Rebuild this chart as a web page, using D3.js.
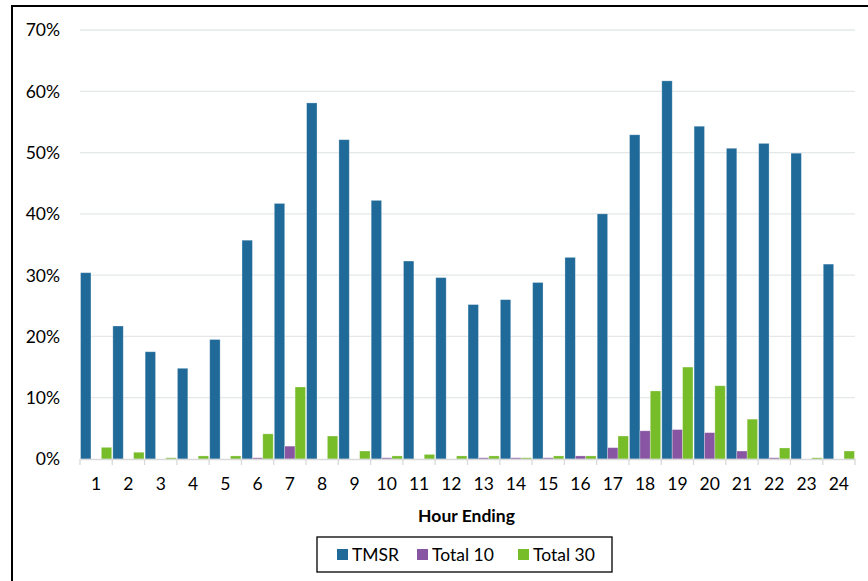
<!DOCTYPE html>
<html>
<head>
<meta charset="utf-8">
<script src="https://cdn.jsdelivr.net/npm/d3@7"></script>
<style>
  html, body { margin: 0; padding: 0; background: #fff; }
  svg { display: block; }
  text { font-family: Lato, "Open Sans", "Liberation Sans", sans-serif; fill: #000; }
</style>
</head>
<body>
<svg id="chart" width="868" height="581"></svg>
<script>
const hours = ["1","2","3","4","5","6","7","8","9","10","11","12","13","14","15","16","17","18","19","20","21","22","23","24"];
const seriesNames = ["TMSR", "Total 10", "Total 30"];
const seriesColors = ["#1f6a99", "#8755a1", "#77bc29"];
const tmsr    = [30.4, 21.7, 17.5, 14.8, 19.5, 35.7, 41.7, 58.1, 52.1, 42.2, 32.3, 29.6, 25.2, 26.0, 28.8, 32.9, 40.0, 52.9, 61.7, 54.3, 50.7, 51.5, 49.9, 31.8];
const total10 = [0, 0, 0, 0, 0, 0.2, 2.1, 0, 0, 0.2, 0, 0, 0.2, 0.2, 0.2, 0.5, 1.85, 4.6, 4.8, 4.3, 1.3, 0.2, 0, 0];
const total30 = [1.9, 1.1, 0.2, 0.5, 0.5, 4.1, 11.75, 3.75, 1.3, 0.5, 0.75, 0.5, 0.5, 0.2, 0.5, 0.5, 3.75, 11.1, 15.0, 11.95, 6.5, 1.8, 0.2, 1.3];
const yTicks = [0, 10, 20, 30, 40, 50, 60, 70];
const xTitle = "Hour Ending";

const seriesValues = [tmsr, total10, total30];
const rows = hours.map((h, i) => ({ hour: h, vals: seriesValues.map(s => s[i]) }));

const svg = d3.select("#chart");
const pLeft = 80, pRight = 855, pTop = 30, pBottom = 459;
const fs = "17.5px";

// outer frame
svg.append("rect").attr("x", 12).attr("y", 6).attr("width", 868).attr("height", 600)
  .attr("fill", "none").attr("stroke", "#000").attr("stroke-width", 2);

const x0 = d3.scaleBand().domain(hours).range([pLeft, pRight]).paddingInner(0.035).paddingOuter(0.0175);
const x1 = d3.scaleBand().domain(seriesNames).range([0, x0.bandwidth()]).padding(0);
const y = d3.scaleLinear().domain([0, 70]).range([pBottom, pTop]);

// gridlines
svg.append("g").selectAll("line").data(yTicks.filter(d => d > 0)).join("line")
  .attr("x1", pLeft).attr("x2", pRight)
  .attr("y1", d => y(d)).attr("y2", d => y(d))
  .attr("stroke", "#e4e8e8").attr("stroke-width", 1.3);

// y axis labels
const yAxis = d3.axisLeft(y).tickValues(yTicks).tickFormat(d => d + "%").tickSize(0).tickPadding(0);
const yg = svg.append("g").attr("transform", `translate(60,0)`).call(yAxis);
yg.select(".domain").remove();
yg.selectAll("text").style("font-size", fs).attr("fill", "#000").attr("dy", "0.34em");

// bars
const groups = svg.append("g").selectAll("g").data(rows).join("g")
  .attr("transform", d => `translate(${x0(d.hour)},0)`);
groups.selectAll("rect").data(d => d.vals.map((v, k) => ({ name: seriesNames[k], v, k }))).join("rect")
  .attr("x", d => x1(d.name))
  .attr("width", x1.bandwidth())
  .attr("y", d => y(d.v))
  .attr("height", d => pBottom - y(d.v))
  .attr("fill", d => seriesColors[d.k])
  .attr("stroke", "rgba(255,255,255,0.35)").attr("stroke-width", 0.8);

// x axis
const xAxisScale = d3.scaleBand().domain(hours).range([pLeft, pRight]);
const xAxis = d3.axisBottom(xAxisScale).tickSize(0).tickPadding(19);
const xg = svg.append("g").attr("transform", `translate(0,${pBottom})`).call(xAxis);
xg.select(".domain").attr("stroke", "#d9d9d9").attr("stroke-width", 1.3);
xg.selectAll("text").style("font-size", fs).attr("fill", "#000");
// tick marks at category boundaries
const bounds = hours.map(h => xAxisScale(h)).concat([pRight]);
svg.append("g").selectAll("line").data(bounds).join("line")
  .attr("x1", d => d).attr("x2", d => d)
  .attr("y1", pBottom).attr("y2", pBottom + 6)
  .attr("stroke", "#d9d9d9").attr("stroke-width", 1.3);

// x title
svg.append("text").attr("x", (pLeft + pRight) / 2 - 1).attr("y", 522)
  .attr("text-anchor", "middle").style("font-size", fs).style("font-weight", "bold")
  .text(xTitle);

// legend
const lg = svg.append("g");
lg.append("rect").attr("x", 317).attr("y", 537).attr("width", 295).attr("height", 35)
  .attr("fill", "#fff").attr("stroke", "#000").attr("stroke-width", 1.3);
const legendX = [337, 417, 518];
seriesNames.forEach((n, i) => {
  lg.append("rect").attr("x", legendX[i]).attr("y", 549).attr("width", 11).attr("height", 11)
    .attr("fill", seriesColors[i]);
  lg.append("text").attr("x", legendX[i] + 15).attr("y", 561)
    .style("font-size", fs).text(n);
});
</script>
</body>
</html>
